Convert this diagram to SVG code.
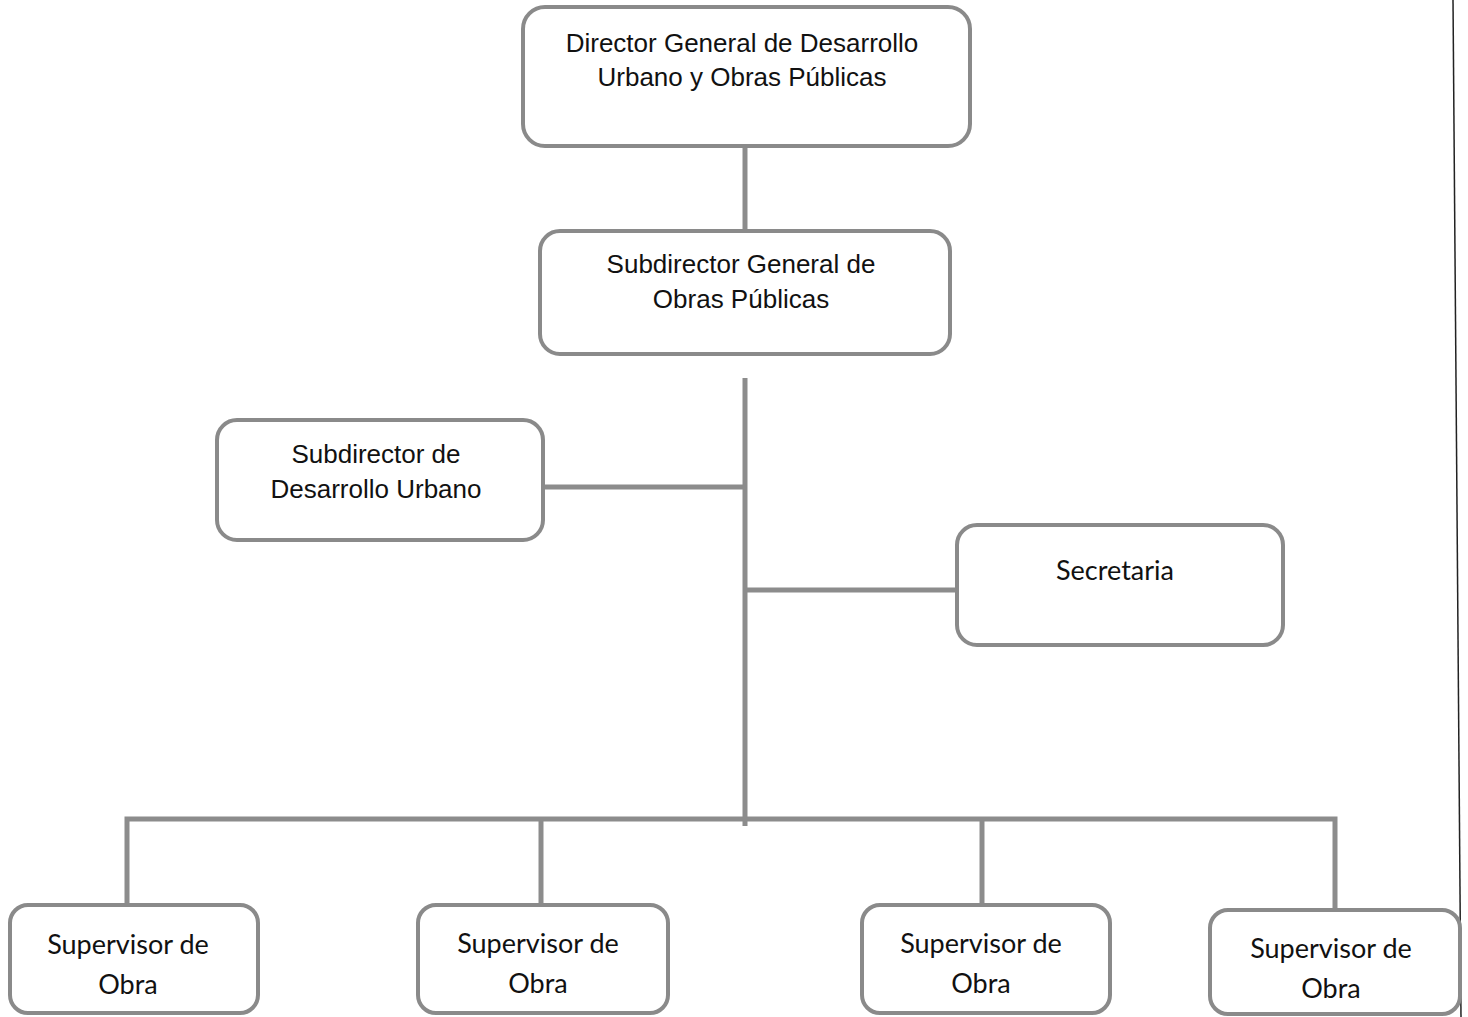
<svg xmlns="http://www.w3.org/2000/svg" width="1468" height="1017" viewBox="0 0 1468 1017">
<style>
.box{fill:#fff;stroke:#8a8a8a;stroke-width:4}
.conn{stroke:#8c8c8c;stroke-width:5;fill:none}
.arial{font-family:"Liberation Sans",Arial,sans-serif;font-size:26px;fill:#111;text-anchor:middle}
.cal{font-family:Lato,"Noto Sans",sans-serif;font-size:27px;fill:#111;text-anchor:middle}
</style>
<rect width="1468" height="1017" fill="#fff"/>
<line x1="1453" y1="0" x2="1461" y2="1017" stroke="#222" stroke-width="1.5"/>
<g id="connectors">
<line class="conn" x1="745" y1="147" x2="745" y2="231"/>
<line class="conn" x1="745" y1="378" x2="745" y2="826"/>
<line class="conn" x1="543" y1="487" x2="745" y2="487"/>
<line class="conn" x1="745" y1="590" x2="957" y2="590"/>
<polyline class="conn" points="127,906 127,819 1335,819 1335,910"/>
<line class="conn" x1="541" y1="819" x2="541" y2="905"/>
<line class="conn" x1="982" y1="819" x2="982" y2="905"/>
</g>
<g id="director">
<rect class="box" x="523" y="7" width="447" height="139" rx="22"/>
<text class="arial" x="742" y="52">Director General de Desarrollo</text>
<text class="arial" x="742" y="86">Urbano y Obras Públicas</text>
</g>
<g id="subdirector-general">
<rect class="box" x="540" y="231" width="410" height="123" rx="20"/>
<text class="arial" x="741" y="273">Subdirector General de</text>
<text class="arial" x="741" y="308">Obras Públicas</text>
</g>
<g id="subdirector-desarrollo">
<rect class="box" x="217" y="420" width="326" height="120" rx="20"/>
<text class="arial" x="376" y="463">Subdirector de</text>
<text class="arial" x="376" y="498">Desarrollo Urbano</text>
</g>
<g id="secretaria">
<rect class="box" x="957" y="525" width="326" height="120" rx="20"/>
<text class="cal" x="1115" y="580">Secretaria</text>
</g>
<g id="supervisor1">
<rect class="box" x="10" y="905" width="248" height="108" rx="18"/>
<text class="cal" x="128" y="954">Supervisor de</text>
<text class="cal" x="128" y="994">Obra</text>
</g>
<g id="supervisor2">
<rect class="box" x="418" y="905" width="250" height="108" rx="18"/>
<text class="cal" x="538" y="953">Supervisor de</text>
<text class="cal" x="538" y="993">Obra</text>
</g>
<g id="supervisor3">
<rect class="box" x="862" y="905" width="248" height="108" rx="18"/>
<text class="cal" x="981" y="953">Supervisor de</text>
<text class="cal" x="981" y="993">Obra</text>
</g>
<g id="supervisor4">
<rect class="box" x="1210" y="910" width="250" height="104" rx="18"/>
<text class="cal" x="1331" y="958">Supervisor de</text>
<text class="cal" x="1331" y="998">Obra</text>
</g>
</svg>
